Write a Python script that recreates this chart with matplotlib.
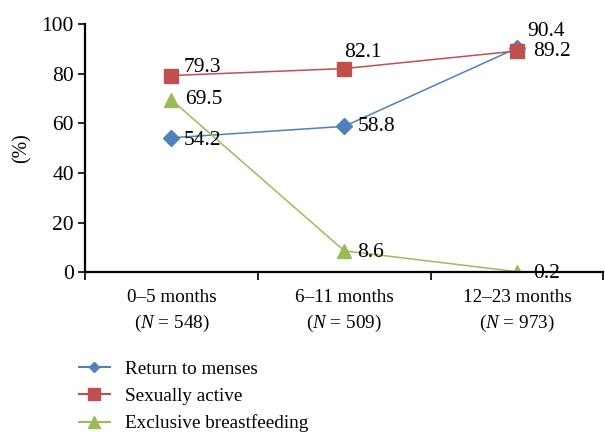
import matplotlib
matplotlib.use("Agg")
import matplotlib.pyplot as plt
from matplotlib.ticker import FixedLocator, NullFormatter

plt.rcParams["font.family"] = ["Liberation Serif", "DejaVu Serif"]
plt.rcParams["mathtext.fontset"] = "custom"
plt.rcParams["mathtext.rm"] = "Liberation Serif"
plt.rcParams["mathtext.it"] = "Liberation Serif:italic"

categories = ["0\u20135 months", "6\u201311 months", "12\u201323 months"]
sample_sizes = [548, 509, 973]
menses = [54.2, 58.8, 90.4]
sexually_active = [79.3, 82.1, 89.2]
breastfeeding = [69.5, 8.6, 0.2]

blue = "#4F81BD"
red = "#C0504D"
green = "#9BBB59"

fig = plt.figure(figsize=(6.05, 4.32), dpi=100)
ax = fig.add_axes([0.1405, 0.370, 0.857, 0.574])

x = list(range(len(categories)))
l1, = ax.plot(x, menses, color=blue, lw=1.1, marker="D", ms=8, mec=blue, mfc=blue,
              label="Return to menses")
l2, = ax.plot(x, sexually_active, color=red, lw=1.1, marker="s", ms=10, mec=red, mfc=red,
              label="Sexually active")
l3, = ax.plot(x, breastfeeding, color=green, lw=1.1, marker="^", ms=10, mec=green, mfc=green,
              label="Exclusive breastfeeding")

fs_num = 15.5
fs_txt = 13.8
# value labels: (dx, dy) in pixels
offsets_menses = [(12, -3), (13, 0), (10, 16)]
offsets_active = [(12, 8), (0, 16), (16, -1)]
offsets_bf = [(14, 0), (13, -2), (16, -2)]
for series, offs in ((menses, offsets_menses), (sexually_active, offsets_active),
                     (breastfeeding, offsets_bf)):
    for xi, v, (dx, dy) in zip(x, series, offs):
        ax.annotate(f"{v}", (xi, v), xytext=(dx * 0.72, dy * 0.72), textcoords="offset points",
                    ha="left", va="center", fontsize=fs_num)

ax.set_xlim(-0.5, 2.5)
ax.set_ylim(0, 100)
ax.set_yticks([0, 20, 40, 60, 80, 100])
ax.tick_params(axis="y", labelsize=fs_num, length=5, width=1.2, direction="out", pad=3)

ax.xaxis.set_major_locator(FixedLocator([-0.5, 0.5, 1.5, 2.5]))
ax.xaxis.set_major_formatter(NullFormatter())
ax.xaxis.set_minor_locator(FixedLocator(x))
ax.set_xticklabels([f"{c}\n($\\mathit{{N}}$ = {n})" for c, n in zip(categories, sample_sizes)],
                   minor=True)
ax.tick_params(axis="x", which="major", length=6, width=1.2, direction="out")
ax.tick_params(axis="x", which="minor", length=0, labelsize=fs_txt, pad=12)
for lbl in ax.get_xticklabels(minor=True):
    lbl.set_linespacing(1.5)

for s in ("top", "right"):
    ax.spines[s].set_visible(False)
for s in ("left", "bottom"):
    ax.spines[s].set_linewidth(1.6)
    ax.spines[s].set_color("black")

ax.set_ylabel("(%)", fontsize=fs_txt + 0.5, labelpad=7)

handles = [
    plt.Line2D([], [], color=blue, lw=1.5, marker="D", ms=5),
    plt.Line2D([], [], color=red, lw=1.5, marker="s", ms=8),
    plt.Line2D([], [], color=green, lw=1.5, marker="^", ms=8),
]
fig.legend(handles, [l1.get_label(), l2.get_label(), l3.get_label()],
           loc="upper left", bbox_to_anchor=(0.118, 0.183), frameon=False, fontsize=fs_txt,
           handlelength=1.6, handletextpad=0.8, labelspacing=0.5, borderaxespad=0)

fig.savefig("out.png", dpi=100)
